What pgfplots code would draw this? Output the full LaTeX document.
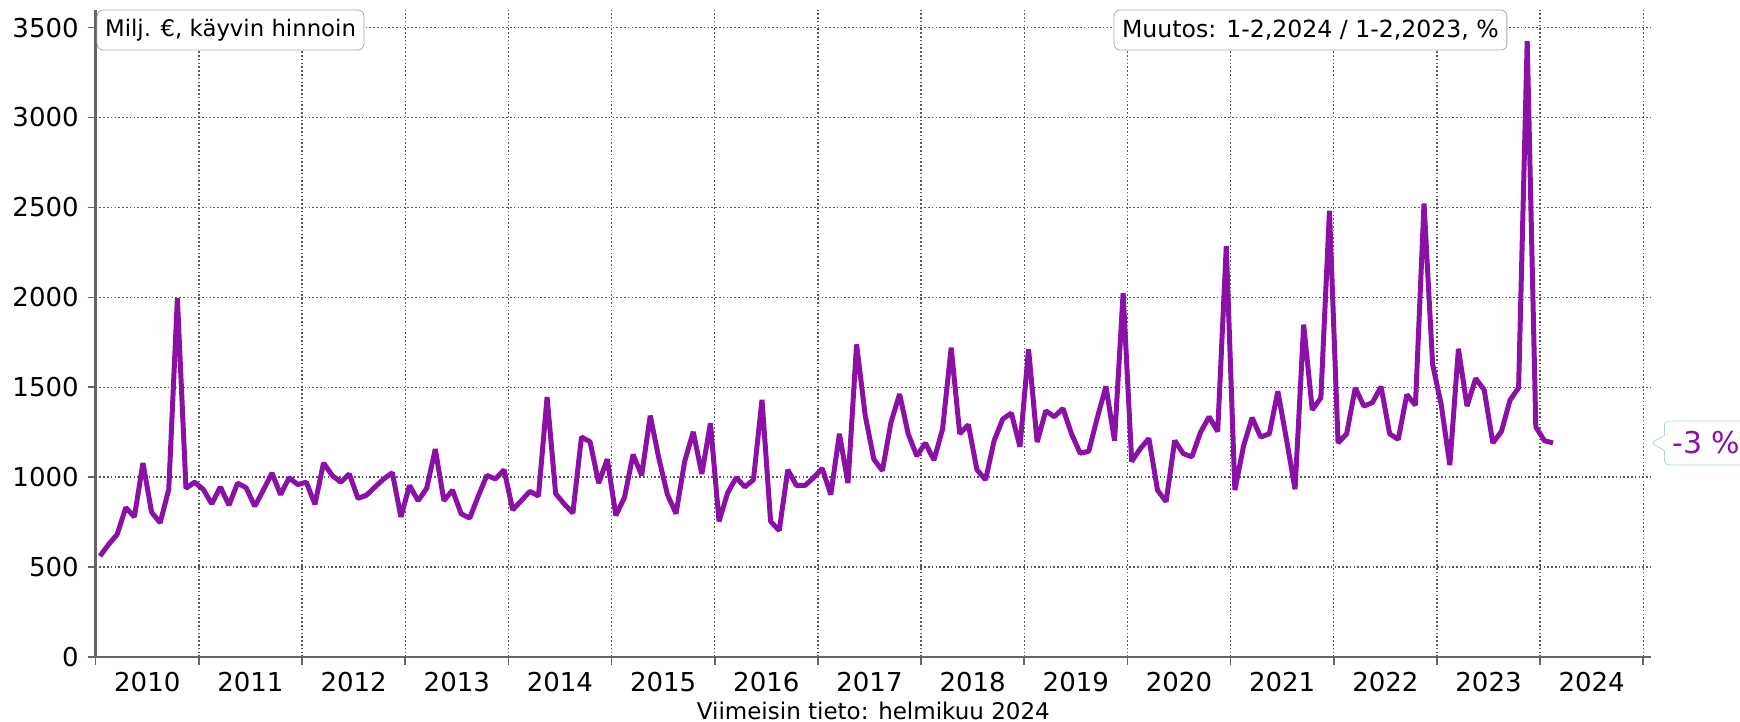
\documentclass[border=0pt]{standalone}
\usepackage{pgfplots}
\pgfplotsset{compat=1.18}
\usepackage{pgfplotstable}
\usepackage{fontspec}
\setmainfont{DejaVu Sans}
\usetikzlibrary{shapes.callouts}
\definecolor{purp}{RGB}{139,16,166}
\definecolor{axgray}{RGB}{102,102,102}
\definecolor{boxgray}{RGB}{170,170,170}
\definecolor{callb}{RGB}{170,215,230}

\pgfplotstableread{
y
561
626
682
831
779
1079
805
746
933
1995
938
972
933
851
946
844
967
941
838
928
1023
903
997
959
972
849
1079
1010
972
1018
882
900
946
990
1025
779
954
869
938
1156
869
928
797
772
895
1010
990
1041
818
869
921
895
1445
908
851
800
1223
1197
967
1100
787
887
1126
1010
1342
1105
903
797
1087
1252
1018
1300
754
913
997
946
985
1430
754
703
1041
954
954
997
1049
903
1241
967
1738
1344
1100
1036
1305
1462
1241
1118
1190
1095
1267
1720
1241
1292
1041
985
1203
1323
1356
1169
1712
1195
1369
1336
1382
1241
1133
1144
1331
1505
1203
2023
1087
1159
1215
928
864
1203
1131
1113
1249
1336
1254
2284
928
1172
1331
1223
1241
1477
1210
933
1848
1374
1441
2481
1190
1241
1497
1395
1415
1503
1241
1210
1459
1400
2522
1626
1403
1067
1714
1395
1549
1485
1190
1254
1428
1497
3426
1279
1203
1190
}\datatable

\begin{document}
\begin{tikzpicture}
\useasboundingbox (0,0) rectangle (870pt,361pt);
\begin{axis}[
  at={(47.85pt,32.5pt)}, anchor=south west,
  scale only axis, width=777.65pt, height=323.7pt,
  xmin=0, xmax=180.9, ymin=0, ymax=3600,
  axis x line*=bottom, axis y line*=left,
  axis line style={axgray, line width=1.4pt},
  xtick={0,12,...,180},
  xticklabels={2010,2011,2012,2013,2014,2015,2016,2017,2018,2019,2020,2021,2022,2023,2024},
  x tick label as interval,
  ytick={0,500,1000,1500,2000,2500,3000,3500},
  tick align=outside,
  major tick length=4pt,
  tick style={axgray, line width=0.8pt},
  grid=major,
  grid style={black!65, line width=0.7pt, dash pattern=on 0.8pt off 1.1pt},
  tick label style={font=\fontsize{13}{15}\selectfont, text=black},
  yticklabel style={xshift=-1pt},
  /pgf/number format/1000 sep={},
  /pgf/number format/assume math mode=true,
  clip=false,
]
\addplot[purp, line width=2.5pt, line join=bevel] table[x expr=\coordindex+0.5, y=y] {\datatable};
\node[draw=boxgray, rounded corners=3pt, fill=white, anchor=north west, inner xsep=4pt, inner ysep=0pt, minimum height=20pt, font=\fontsize{11.4}{13}\selectfont] at ([xshift=0.5pt]rel axis cs:0,1) {Milj. €, käyvin hinnoin};
\node[draw=boxgray, rounded corners=3pt, fill=white, anchor=north east, inner xsep=4pt, inner ysep=0pt, minimum height=20pt, font=\fontsize{11.8}{13}\selectfont] at (rel axis cs:0.9076,1) {Muutos: 1-2,2024 / 1-2,2023, \%};
\node[rectangle callout, draw=callb, fill=white, rounded corners=2pt, anchor=west, text=purp, font=\fontsize{15}{17}\selectfont, inner xsep=4pt, inner ysep=0pt, minimum height=22pt, callout pointer width=7.5pt, callout absolute pointer={(axis cs:180.9,1190)}] at ([xshift=6.5pt]axis cs:180.9,1190) {-3 \%};
\node[anchor=base, font=\fontsize{11.5}{13}\selectfont] at ([yshift=-31.3pt]rel axis cs:0.5,0) {Viimeisin tieto: helmikuu 2024};
\end{axis}
\end{tikzpicture}
\end{document}
